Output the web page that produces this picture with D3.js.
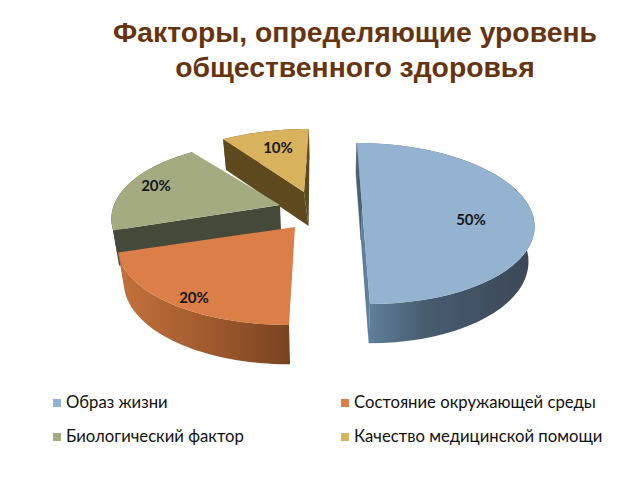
<!DOCTYPE html>
<html><head><meta charset="utf-8">
<script src="https://cdn.jsdelivr.net/npm/d3@7"></script>
<style>html,body{margin:0;background:#fff}svg{display:block}</style></head>
<body><svg id="c" width="640" height="480"></svg>
<script>
const titleLines = ["Факторы, определяющие уровень","общественного здоровья"];
const categories = ["Образ жизни","Состояние окружающей среды","Биологический фактор","Качество медицинской помощи"];
const values = [50,20,20,10];
const percentLabels = ["50%","20%","20%","10%"];

const topColors = ["#93b3d1","#db7e47","#a4ab80","#d8b25c"];
const sideFrom = ["#5f7f9a","#c2703a","#45493a","#5f4a20"];
const sideMid = ["#485c70","#a05a2e","#45493a","#5f4a20"];
const sideTo = ["#3c4858","#7a4321","#45493a","#5f4a20"];
const layout = [
  {ax:362,ay:206,s:6.2,rx:167,lx:471,ly:225,bdx:0},
  {ax:295,ay:227,s:-4.7,rx:172,lx:194,ly:303,bdx:0},
  {ax:280,ay:205,s:7,rx:166,lx:156,ly:191,bdx:0},
  {ax:304,ay:192,s:-6,rx:170,lx:278,ly:153,bdx:4}
];
const RY=76.7,P=0.217,VX=325,SHRINK=0.029,DEPTH=34;

const svg=d3.select("#c");
const defs=svg.append("defs");
const arcs=d3.pie().sort(null).startAngle(0).endAngle(2*Math.PI)(values);
const line=d3.line();

function topPt(l,a){const u=Math.sin(a),v=-Math.cos(a),w=1/(1-P*v);
  return [l.ax+(l.rx*u+l.s*v)*w,l.ay+RY*v*w,w];}
function dropPt(x,y,w){return [x-(x-VX)*SHRINK,y+DEPTH*Math.pow(w,0.6)];}
function botPt(l,a){const t=topPt(l,a);return dropPt(t[0],t[1],t[2]);}
const apex=l=>[l.ax,l.ay];
const apexB=l=>{const p=dropPt(l.ax,l.ay,1);return [p[0]+l.bdx,p[1]];};
function rim(d,f,l){const n=48;return d3.range(n+1).map(i=>f(l,d.startAngle+(d.endAngle-d.startAngle)*i/n).slice(0,2));}

const order=[3,2,0,1];
order.forEach(i=>{
  const d=arcs[i],l=layout[i],g=svg.append("g");
  const id="side"+i;
  const gr=defs.append("linearGradient").attr("id",id).attr("gradientUnits","userSpaceOnUse");
  const tr=rim(d,topPt,l),br=rim(d,botPt,l);
  const xs=br.filter((p,k)=>i!==0||k>=0).map(p=>p[0]);
  gr.attr("x1",i===0?369:d3.min(xs)).attr("x2",d3.max(xs)).attr("y1",0).attr("y2",0);
  gr.append("stop").attr("offset",0).attr("stop-color",sideFrom[i]);
  gr.append("stop").attr("offset",i===0?0.35:0.5).attr("stop-color",sideMid[i]);
  gr.append("stop").attr("offset",1).attr("stop-color",sideTo[i]);
  g.append("path").attr("d",line(tr.concat(br.slice().reverse()))+"Z").attr("fill","url(#"+id+")");
  const a0=tr[0],b0=br[0],a1=tr[tr.length-1],b1=br[br.length-1];
  const face=(p,q)=>line([apex(l),p,q,apexB(l)])+"Z";
  if(i===0) g.append("path").attr("d",face(a0,b0)).attr("fill","#4a5f73").attr("stroke","#4a5f73").attr("stroke-width",.5),
            g.append("path").attr("d",face(a1,b1)).attr("fill","#5f7f9a");
  if(i===2) g.append("path").attr("d",face(a0,b0)).attr("fill","#45493a");
  if(i===3) g.append("path").attr("d",face(a0,b0)).attr("fill","#5f4a20"),
            g.append("path").attr("d",face(a1,b1)).attr("fill","#5f4a20");
  g.append("path").attr("d",line([apex(l)].concat(tr))+"Z").attr("fill",topColors[i]);
});

svg.append("g").selectAll("text").data(percentLabels).join("text")
  .attr("x",(d,i)=>layout[i].lx).attr("y",(d,i)=>layout[i].ly)
  .attr("text-anchor","middle").attr("font-family","Lato, 'Open Sans', sans-serif")
  .attr("font-weight","bold").attr("font-size",15).attr("fill","#14181c").text(d=>d);

svg.append("g").selectAll("text").data(titleLines).join("text")
  .attr("x",355).attr("y",(d,i)=>i?77:42).attr("text-anchor","middle")
  .attr("font-family","'Liberation Sans',Arial,sans-serif").attr("font-weight","bold")
  .attr("font-size",28.3).attr("fill","#663410").text(d=>d);

const lx=[53,341],ly=[403,437];
const lg=svg.append("g").selectAll("g").data(categories).join("g")
  .attr("transform",(d,i)=>`translate(${lx[i%2]},${ly[i>>1]})`);
lg.append("rect").attr("x",0).attr("y",-4).attr("width",8).attr("height",8).attr("fill",(d,i)=>topColors[i]);
lg.append("text").attr("x",13).attr("y",5).attr("font-family","Lato,'Open Sans',sans-serif")
  .attr("font-size",16.7).attr("fill","#111").text(d=>d);
</script></body></html>
